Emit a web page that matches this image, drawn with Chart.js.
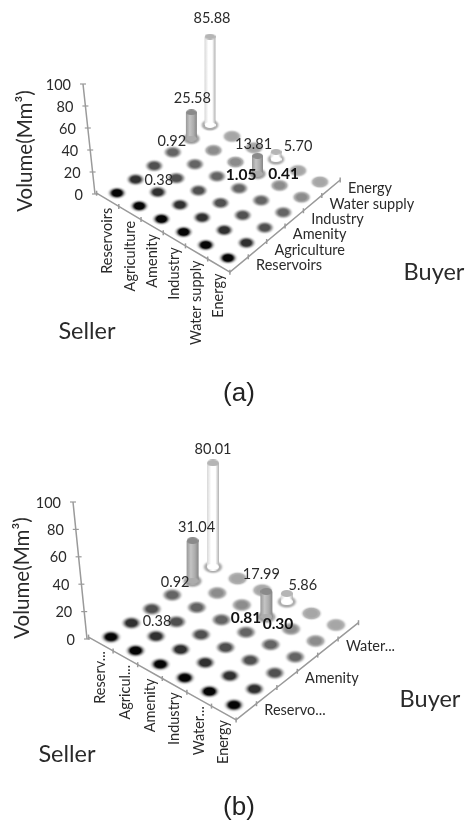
<!DOCTYPE html>
<html>
<head>
<meta charset="utf-8">
<script src="https://cdn.jsdelivr.net/npm/chart.js@4"></script>
<style>
  html, body { margin: 0; background: #fff; }
  #wrap { position: relative; width: 467px; height: 823px; overflow: hidden; }
  canvas { position: absolute; left: 0; filter: blur(0.35px); }
</style>
</head>
<body>
<div id="wrap">
  <canvas id="c-a" width="467" height="411" style="top:0"></canvas>
  <canvas id="c-b" width="467" height="412" style="top:411px"></canvas>
</div>
<script>
const sellerCatsA = ['Reservoirs', 'Agriculture', 'Amenity', 'Industry', 'Water supply', 'Energy'];
const buyerCatsA  = ['Reservoirs', 'Agriculture', 'Amenity', 'Industry', 'Water supply', 'Energy'];
const sellerCatsB = ['Reserv...', 'Agricul...', 'Amenity', 'Industry', 'Water...', 'Energy'];
const buyerCatsB  = ['Reservo...', '', 'Amenity', '', 'Water...', ''];
const volumeTicks = [0, 20, 40, 60, 80, 100];

// index into the category lists above
const tradeSellerA = [0, 0, 0, 1, 3, 3, 3, 4];
const tradeBuyerA  = [5, 4, 3, 1, 4, 5, 3, 4];
const tradeVolumeA = [85.88, 25.58, 0.92, 0.38, 13.81, 5.70, 1.05, 0.41];
const tradeTextA   = ['85.88', '25.58', '0.92', '0.38', '13.81', '5.70', '1.05', '0.41'];

const tradeSellerB = [0, 0, 0, 1, 3, 3, 3, 4];
const tradeBuyerB  = [5, 4, 3, 1, 4, 5, 3, 4];
const tradeVolumeB = [80.01, 31.04, 0.92, 0.38, 17.99, 5.86, 0.81, 0.30];
const tradeTextB   = ['80.01', '31.04', '0.92', '0.38', '17.99', '5.86', '0.81', '0.30'];

// floor marker shade per buyer row
const ROW_SHADE = ['#050505', '#303030', '#505050', '#646464', '#8c8c8c', '#a6a6a6'];
const CYL = {
  4: { stops: ['#989898', '#c4c4c4', '#acacac', '#868686'], cap: '#8a8a8a' },
  5: { stops: ['#d8d8d8', '#ffffff', '#ffffff', '#b0b0b0'], cap: '#b5b5b5' },
};
const LABEL_FONT = 'Lato, sans-serif';
const TXT = '#2a2a2a';

const LAYOUT_A = {
  id: 'c-a', top: 0, bottom: 411,
  corners: { left: [117, 193], front: [228, 258], back: [210, 125], right: [320, 182] },
  zBase: 1.03, zPerSeller: 0.09, cylW: 11, dotW: 21, dotH: 14,
  axisBase: [95, 194], axisTop: [83, 84],
  sellerDy: 8, buyerDx: 17, buyerDy: 1,
  labelOff: [[2, -18], [1, -14], [-1, -10], [1, -11], [-4, -11], [22, -5], [2, -12], [4, -11]],
  title: [25, 151], seller: [87, 331], buyer: [434, 272], caption: [239, 394], capText: '(a)',
  sellerCats: sellerCatsA, buyerCats: buyerCatsA,
  tS: tradeSellerA, tB: tradeBuyerA, tV: tradeVolumeA, tT: tradeTextA,
};
const LAYOUT_B = {
  id: 'c-b', top: 411, bottom: 823,
  corners: { left: [111, 637], front: [234, 705], back: [213, 567], right: [336, 625] },
  zBase: 1.3, zPerSeller: 0.04, cylW: 12, dotW: 23, dotH: 15,
  axisBase: [87, 639], axisTop: [73, 502],
  sellerDy: 7, buyerDx: 18, buyerDy: -1,
  labelOff: [[0, -14], [4, -13], [3, -11], [1, -14], [-5, -17], [16, -8], [0, -13], [-13, -5]],
  title: [22, 578], seller: [67, 754], buyer: [430, 699], caption: [239, 808], capText: '(b)',
  sellerCats: sellerCatsB, buyerCats: buyerCatsB,
  tS: tradeSellerB, tB: tradeBuyerB, tV: tradeVolumeB, tT: tradeTextB,
};

// soft blurred ellipse used as a point image
function dotSprite(shade, w, h) {
  const cv = document.createElement('canvas');
  cv.width = w + 6; cv.height = h + 6;
  const g = cv.getContext('2d');
  g.translate(cv.width / 2, cv.height / 2);
  g.scale(1, h / w);
  const r = w / 2;
  const grad = g.createRadialGradient(0, 0, 0, 0, 0, r);
  grad.addColorStop(0, shade);
  grad.addColorStop(0.45, shade);
  grad.addColorStop(0.7, '#b4b4b4');
  grad.addColorStop(1, 'rgba(255,255,255,0)');
  g.fillStyle = grad;
  g.beginPath(); g.arc(0, 0, r, 0, Math.PI * 2); g.fill();
  return cv;
}

function capSprite(fill, w) {
  const h = Math.round(w * 0.55);
  const cv = document.createElement('canvas');
  cv.width = w; cv.height = h;
  const g = cv.getContext('2d');
  g.fillStyle = fill;
  g.beginPath(); g.ellipse(w / 2, h / 2, w / 2, h / 2, 0, 0, Math.PI * 2); g.fill();
  return cv;
}

function makePanel(L) {
  const { left, front, back, right } = L.corners;
  // seller runs left->front, buyer runs front->right
  const floorAt = (s, b) => {
    const u = s / 5, v = b / 5;
    const f = k => (1 - u) * (1 - v) * left[k] + u * (1 - v) * front[k] + (1 - u) * v * back[k] + u * v * right[k];
    return { x: f(0), y: f(1) };
  };
  const project = (s, b, vol) => {
    const p = floorAt(s, b);
    return { x: p.x, y: p.y - vol * (L.zBase + L.zPerSeller * s) };
  };
  const axisAt = v => ({
    x: L.axisBase[0] + (L.axisTop[0] - L.axisBase[0]) * v / 100,
    y: L.axisBase[1] + (L.axisTop[1] - L.axisBase[1]) * v / 100,
  });

  const datasets = [];
  const add = ds => { datasets.push(Object.assign({ order: 1000 - datasets.length }, ds)); };

  // floor markers, back rows first
  const floorPts = [], floorImgs = [];
  for (let b = 5; b >= 0; b--) {
    const img = dotSprite(ROW_SHADE[b], L.dotW, L.dotH);
    L.sellerCats.forEach((_, s) => { floorPts.push(floorAt(s, b)); floorImgs.push(img); });
  }
  add({ data: floorPts, pointStyle: floorImgs, showLine: false });

  // seller and buyer axes, ticks on the category boundaries
  const axisPts = [];
  for (let s = 0; s <= 6; s++) axisPts.push(floorAt(s - 0.5, -0.5));
  for (let b = 1; b <= 6; b++) axisPts.push(floorAt(5.5, b - 0.5));
  add({
    data: axisPts, showLine: true, borderColor: '#9a9a9a', borderWidth: 1.5, tension: 0,
    pointStyle: 'line', pointRotation: 90, pointRadius: 2.5, pointBorderColor: '#9a9a9a', pointBorderWidth: 1.5,
  });
  add({
    data: volumeTicks.map(axisAt),
    showLine: true, borderColor: '#9a9a9a', borderWidth: 1.5, tension: 0,
    pointStyle: 'line', pointRadius: 3, pointBorderColor: '#9a9a9a', pointBorderWidth: 1.2,
  });

  // cylinders, only the volumes tall enough to show; back ones first
  L.tV.forEach((vol, n) => {
    if (vol < 2) return;
    const s = L.tS[n], b = L.tB[n], look = CYL[b];
    add({
      data: [project(s, b, 0), project(s, b, vol)],
      showLine: true, tension: 0, borderWidth: L.cylW, borderCapStyle: 'butt',
      borderColor: c => {
        const ch = c.chart;
        if (!ch.chartArea) return look.cap;
        const cx = ch.scales.x.getPixelForValue(floorAt(s, b).x);
        const gr = ch.ctx.createLinearGradient(cx - L.cylW / 2, 0, cx + L.cylW / 2, 0);
        [0, 0.35, 0.7, 1].forEach((t, i) => gr.addColorStop(t, look.stops[i]));
        return gr;
      },
      pointStyle: [capSprite(look.stops[2], L.cylW), capSprite(look.cap, L.cylW)],
    });
  });

  const text = (ctx, str, x, y, font, align, color, rot) => {
    ctx.save();
    ctx.translate(x, y);
    if (rot) ctx.rotate(rot);
    ctx.font = font; ctx.textAlign = align; ctx.textBaseline = 'middle'; ctx.fillStyle = color;
    ctx.fillText(str, 0, 0);
    ctx.restore();
  };

  const panelText = {
    id: 'panelText',
    afterDatasetsDraw(chart) {
      const ctx = chart.ctx, X = chart.scales.x, Y = chart.scales.y;
      const px = v => X.getPixelForValue(v), py = v => Y.getPixelForValue(v);
      const small = '14.5px ' + LABEL_FONT;

      volumeTicks.forEach(v => {
        const p = axisAt(v);
        text(ctx, String(v), px(p.x - 12), py(p.y + 1), small, 'right', TXT);
      });
      L.sellerCats.forEach((name, s) => {
        const p = floorAt(s, -0.5);
        text(ctx, name, px(p.x), py(p.y + L.sellerDy), small, 'right', TXT, -Math.PI / 2);
      });
      L.buyerCats.forEach((name, b) => {
        if (!name) return;
        const p = floorAt(5.5, b);
        text(ctx, name, px(p.x + L.buyerDx), py(p.y + L.buyerDy), small, 'left', TXT);
      });
      L.tT.forEach((str, n) => {
        const p = project(L.tS[n], L.tB[n], L.tV[n]);
        const o = L.labelOff[n];
        const bold = L.tS[n] >= 3 && L.tV[n] < 2;
        text(ctx, str, px(p.x + o[0]), py(p.y + o[1]),
          bold ? 'bold 15.5px ' + LABEL_FONT : small, 'center', bold ? '#111' : TXT);
      });

      text(ctx, 'Volume(Mm³)', px(L.title[0]), py(L.title[1]), '20.5px ' + LABEL_FONT, 'center', TXT, -Math.PI / 2);
      text(ctx, 'Seller', px(L.seller[0]), py(L.seller[1]), '23.5px ' + LABEL_FONT, 'center', TXT);
      text(ctx, 'Buyer', px(L.buyer[0]), py(L.buyer[1]), '23.5px ' + LABEL_FONT, 'center', TXT);
      text(ctx, L.capText, px(L.caption[0]), py(L.caption[1]), '26px "Liberation Sans", Arial, sans-serif', 'center', '#222');
    },
  };

  return new Chart(document.getElementById(L.id), {
    type: 'scatter',
    data: { datasets },
    plugins: [panelText],
    options: {
      responsive: false, animation: false, events: [],
      layout: { padding: 0, autoPadding: false },
      plugins: { legend: { display: false }, tooltip: { enabled: false } },
      scales: {
        x: { type: 'linear', display: false, min: 0, max: 467 },
        y: { type: 'linear', display: false, min: L.top, max: L.bottom, reverse: true },
      },
    },
  });
}

makePanel(LAYOUT_A);
makePanel(LAYOUT_B);
</script>
</body>
</html>
